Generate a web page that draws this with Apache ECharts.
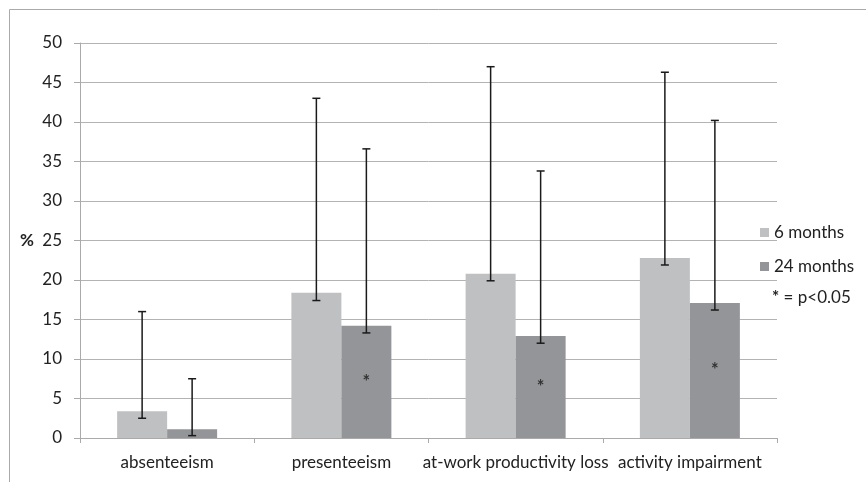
<!DOCTYPE html>
<html><head><meta charset="utf-8">
<script src="https://cdn.jsdelivr.net/npm/echarts@6/dist/echarts.min.js"></script>
<style>html,body{margin:0;padding:0;background:#fff}#c{width:866px;height:482px}</style>
</head><body><div id="c"></div>
<script>
var categories = ['absenteeism', 'presenteeism', 'at-work productivity loss', 'activity impairment'];
var months6 = [3.4, 18.4, 20.8, 22.8];
var months24 = [1.1, 14.2, 12.9, 17.1];
var err6Low = [2.5, 17.4, 19.9, 21.9];
var err6High = [16.0, 43.0, 47.0, 46.3];
var err24Low = [0.3, 13.3, 12.0, 16.2];
var err24High = [7.5, 36.6, 33.8, 40.2];
var significant24 = [false, true, true, true];
var yTicks = [0, 5, 10, 15, 20, 25, 30, 35, 40, 45, 50];

var FONT = 'Lato';
var FS = 17;
var chart = echarts.init(document.getElementById('c'));

function errData(low, high) {
  return categories.map(function (c, i) { return [i, low[i], high[i]]; });
}
function errRender(offset) {
  return function (params, api) {
    var idx = api.value(0);
    var lo = api.coord([idx, api.value(1)]);
    var hi = api.coord([idx, api.value(2)]);
    var x = lo[0] + offset;
    var cap = 4;
    var st = { stroke: '#1a1a1a', lineWidth: 1.5 };
    return {
      type: 'group',
      children: [
        { type: 'line', shape: { x1: x, y1: lo[1], x2: x, y2: hi[1] }, style: st },
        { type: 'line', shape: { x1: x - cap, y1: lo[1], x2: x + cap, y2: lo[1] }, style: st },
        { type: 'line', shape: { x1: x - cap, y1: hi[1], x2: x + cap, y2: hi[1] }, style: st }
      ]
    };
  };
}

chart.setOption({
  animation: false,
  grid: { left: 80, right: 89, top: 43, bottom: 44 },
  legend: {
    orient: 'vertical', left: 755, top: 219,
    itemWidth: 9, itemHeight: 9, itemGap: 17, icon: 'rect',
    textStyle: { fontFamily: FONT, fontSize: FS, color: '#222', lineHeight: 17 },
    data: ['6 months', '24 months']
  },
  xAxis: {
    type: 'category', data: categories,
    axisLine: { lineStyle: { color: '#aaa' } },
    axisTick: { show: true, length: 5, lineStyle: { color: '#aaa' } },
    axisLabel: { fontFamily: FONT, fontSize: FS, color: '#222', margin: 16, interval: 0 }
  },
  yAxis: {
    type: 'value', min: 0, max: 50, interval: 5,
    axisLine: { show: true, lineStyle: { color: '#aaa' } },
    axisTick: { show: true, length: 6, lineStyle: { color: '#aaa' } },
    axisLabel: { fontFamily: FONT, fontSize: FS, color: '#222', margin: 18,
      formatter: function (v) { return yTicks.indexOf(v) >= 0 ? String(v) : ''; } },
    splitLine: { lineStyle: { color: '#b3b3b3', width: 1 } }
  },
  graphic: [
    { type: 'rect', silent: true, shape: { x: 9.5, y: 9.5, width: 1000, height: 1000 },
      style: { fill: 'none', stroke: '#aaa', lineWidth: 1 } },
    { type: 'text', left: 20, top: 232, style: { text: '%', fontFamily: FONT, fontSize: 17, fontWeight: 'bold', fill: '#222' } },
    { type: 'text', left: 772, top: 289, style: {
      text: '{b|*} = p<0.05', fontFamily: FONT, fontSize: FS, fill: '#222',
      rich: { b: { fontWeight: 'bold', fontFamily: FONT, fontSize: FS, fill: '#222' } } } }
  ],
  series: [
    { name: '6 months', type: 'bar', data: months6, barWidth: 50, barGap: '0%',
      itemStyle: { color: '#bfc0c2' } },
    { name: '24 months', type: 'bar', data: months24.map(function (v, i) {
        return { value: v, label: { show: significant24[i] } };
      }), barWidth: 50, barGap: '0%',
      itemStyle: { color: '#949598' },
      label: { show: false, position: 'inside', formatter: '*', fontFamily: FONT, fontSize: 18, fontWeight: 'bold', color: '#333' } },
    { type: 'custom', name: 'err6', data: errData(err6Low, err6High), renderItem: errRender(-25), z: 10 },
    { type: 'custom', name: 'err24', data: errData(err24Low, err24High), renderItem: errRender(25), z: 10 }
  ]
});
</script></body></html>
